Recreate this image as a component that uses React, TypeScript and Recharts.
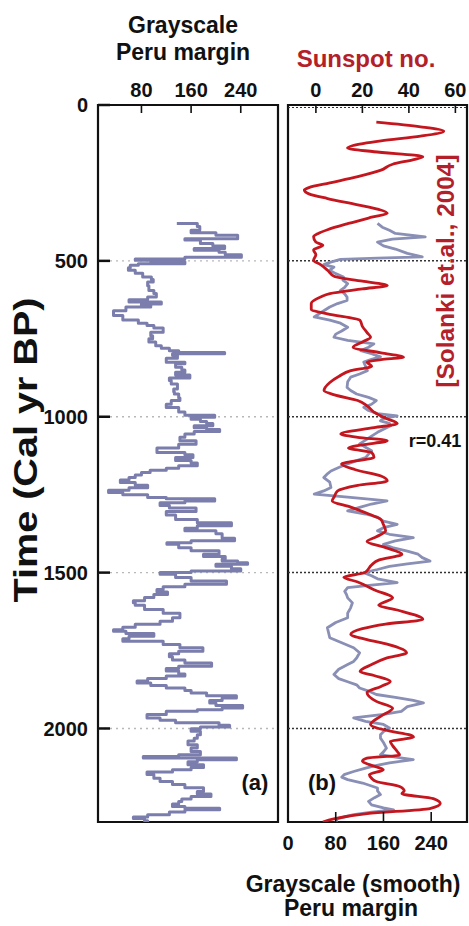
import { LineChart, Line, XAxis, YAxis, ReferenceLine, ReferenceArea } from 'recharts';

const FONT = '"Liberation Sans", Arial, Helvetica, sans-serif';
const INK = '#111';
const GRAY_LINE = '#7b7eac';
const SMOOTH_LINE = '#8a8fb5';
const RED = '#c4161e';
const RED_TEXT = '#b3202a';

// (a) grayscale, Peru margin (cal yr BP / grayscale)
const yearsA = [
  380, 390, 402, 410, 418, 429, 433, 444, 452, 460, 466, 472, 480, 488, 494, 498, 503, 509, 514, 522,
  530, 540, 552, 560, 568, 580, 595, 605, 616, 625, 632, 638, 643, 648, 660, 675, 690, 700, 707, 715,
  729, 740, 750, 760, 772, 780, 788, 794, 798, 803, 812, 825, 830, 841, 850, 857, 866, 876, 884, 895,
  911, 920, 927, 940, 948, 960, 970, 985, 995, 1002, 1008, 1015, 1022, 1029, 1035, 1041, 1047, 1055, 1066, 1077,
  1088, 1100, 1115, 1122, 1131, 1140, 1148, 1157, 1165, 1172, 1179, 1187, 1195, 1203, 1211, 1220, 1228, 1236, 1243, 1250,
  1259, 1263, 1270, 1276, 1285, 1293, 1304, 1315, 1330, 1340, 1350, 1358, 1366, 1375, 1390, 1398, 1404, 1409, 1420, 1430,
  1441, 1448, 1456, 1463, 1468, 1473, 1480, 1488, 1495, 1500, 1505, 1516, 1527, 1537, 1545, 1554, 1562, 1570, 1580, 1590,
  1597, 1605, 1618, 1630, 1645, 1656, 1666, 1675, 1683, 1688, 1695, 1704, 1712, 1720, 1731, 1741, 1752, 1760, 1770, 1780,
  1790, 1800, 1808, 1816, 1825, 1832, 1840, 1848, 1854, 1862, 1870, 1878, 1886, 1895, 1902, 1910, 1918, 1926, 1934, 1940,
  1945, 1955, 1966, 1974, 1982, 1990, 1995, 2001, 2009, 2020, 2031, 2040, 2052, 2063, 2074, 2084, 2090, 2095, 2100, 2107,
  2116, 2125, 2132, 2140, 2148, 2160, 2170, 2180, 2190, 2202, 2210, 2218, 2226, 2234, 2242, 2250, 2256, 2261, 2268, 2277,
  2284, 2289, 2296, 2300,
];
const grayA = [
  137, 170, 174, 160, 200, 235, 150, 175, 195, 214, 165, 205, 215, 241, 150, 70, 95, 150, 75, 62,
  59, 70, 82, 96, 99, 90, 92, 100, 104, 90, 60, 112, 80, 95, 55, 35, 50, 75, 89, 100,
  115, 95, 98, 92, 103, 112, 125, 140, 214, 130, 138, 120, 150, 135, 145, 150, 135, 158, 125, 128,
  138, 132, 133, 140, 142, 128, 120, 140, 150, 198, 160, 175, 185, 195, 165, 185, 206, 165, 150, 142,
  168, 140, 105, 150, 163, 135, 160, 170, 140, 120, 94, 80, 70, 60, 46, 70, 90, 60, 27, 50,
  90, 120, 198, 150, 110, 125, 168, 120, 135, 170, 225, 170, 150, 200, 210, 230, 160, 121, 140, 160,
  205, 180, 215, 210, 235, 251, 200, 225, 240, 160, 110, 135, 160, 217, 150, 115, 105, 122, 100, 85,
  67, 70, 85, 115, 142, 130, 110, 70, 50, 35, 55, 100, 60, 50, 115, 142, 179, 140, 125, 130,
  150, 193, 140, 120, 140, 150, 120, 90, 73, 95, 120, 150, 160, 185, 233, 210, 190, 200, 243, 210,
  170, 120, 89, 110, 135, 205, 222, 175, 160, 175, 170, 165, 155, 170, 160, 175, 140, 83, 233, 170,
  155, 180, 160, 130, 89, 100, 110, 130, 150, 180, 170, 192, 160, 145, 140, 130, 150, 206, 150, 125,
  90, 67, 85, 90,
];

// (b) grayscale (smooth)
const yearsSmooth = [
  380, 392, 402, 412, 423, 430, 440, 452, 462, 476, 487, 491, 495, 505, 512, 520, 530, 541, 552, 562,
  573, 585, 595, 606, 616, 627, 637, 648, 660, 680, 690, 700, 713, 725, 735, 745, 755, 766, 777, 788,
  798, 808, 816, 825, 838, 852, 863, 873, 888, 906, 916, 927, 938, 948, 960, 970, 980, 990, 997, 1005,
  1013, 1021, 1029, 1040, 1050, 1062, 1075, 1087, 1098, 1109, 1120, 1131, 1141, 1151, 1163, 1174, 1185, 1195, 1210, 1227,
  1238, 1248, 1258, 1265, 1270, 1280, 1291, 1302, 1312, 1322, 1335, 1345, 1356, 1366, 1377, 1388, 1398, 1409, 1420, 1431,
  1441, 1452, 1463, 1472, 1480, 1490, 1500, 1510, 1520, 1532, 1540, 1548, 1560, 1570, 1581, 1597, 1613, 1630, 1645, 1660,
  1677, 1693, 1709, 1725, 1741, 1757, 1774, 1785, 1795, 1810, 1827, 1840, 1850, 1860, 1870, 1880, 1891, 1900, 1910, 1918,
  1930, 1945, 1955, 1966, 1977, 1987, 1998, 2010, 2020, 2031, 2045, 2063, 2075, 2084, 2092, 2100, 2110, 2120, 2127, 2138,
  2148, 2156, 2164, 2175, 2191, 2200, 2212, 2222, 2234, 2245, 2255, 2261, 2268, 2276, 2289, 2300,
];
const graySmooth = [
  150, 158, 170, 180, 230, 175, 150, 160, 180, 200, 225, 150, 88, 70, 60, 77, 70, 80, 93, 92,
  100, 95, 88, 95, 99, 99, 83, 70, 60, 44, 70, 88, 100, 90, 80, 77, 100, 144, 135, 122,
  140, 155, 140, 127, 130, 133, 120, 105, 100, 99, 105, 115, 135, 148, 140, 127, 135, 150, 183, 160,
  155, 170, 172, 160, 150, 140, 130, 120, 130, 140, 135, 130, 115, 100, 85, 72, 65, 60, 70, 72,
  60, 44, 100, 140, 166, 140, 120, 100, 130, 150, 160, 183, 160, 150, 170, 210, 180, 160, 175, 200,
  218, 225, 238, 200, 170, 150, 127, 140, 150, 183, 140, 100, 95, 98, 100, 108, 105, 100, 100, 80,
  66, 68, 70, 90, 110, 120, 115, 110, 100, 85, 77, 85, 100, 115, 120, 135, 148, 180, 210, 227,
  200, 190, 160, 110, 130, 160, 170, 160, 155, 155, 160, 165, 160, 155, 180, 210, 170, 145, 130, 110,
  94, 90, 100, 125, 150, 150, 155, 145, 135, 140, 160, 177, 140, 110, 83, 80,
];

// (b) sunspot number [Solanki et al., 2004]
const yearsSunspot = [
  55, 70, 84, 100, 115, 130, 138, 150, 166, 175, 190, 209, 230, 250, 265, 273, 285, 300, 320, 335,
  347, 360, 380, 400, 412, 423, 440, 450, 465, 480, 498, 512, 530, 550, 565, 579, 590, 605, 616, 637,
  655, 670, 691, 710, 730, 745, 760, 777, 795, 809, 817, 825, 838, 852, 870, 890, 916, 930, 948, 965,
  985, 1005, 1022, 1035, 1055, 1066, 1077, 1090, 1100, 1115, 1130, 1152, 1170, 1190, 1206, 1220, 1238, 1255, 1270, 1290,
  1313, 1330, 1345, 1366, 1385, 1400, 1420, 1441, 1460, 1475, 1500, 1515, 1530, 1555, 1581, 1605, 1620, 1650, 1665, 1680,
  1698, 1715, 1730, 1757, 1775, 1795, 1817, 1830, 1849, 1865, 1885, 1913, 1935, 1960, 1987, 2000, 2010, 2020, 2028, 2035,
  2041, 2055, 2074, 2085, 2095, 2105, 2116, 2132, 2148, 2160, 2170, 2186, 2200, 2209, 2225, 2241, 2257, 2273, 2290, 2300,
];
const sunspot = [
  26, 45, 55, 45, 28, 16, 13.6, 25, 46, 42, 33, 28, 18, 6, -3, -5, -3, 5, 18, 27,
  30.7, 24, 14, 5, 1, -1, 0, 3, -1, 0, -1, 2, 5, 8, 20, 30.7, 20, 6, 2, -2,
  -2, 5, 19, 20, 22, 23.5, 20, 16, 28, 37.7, 28, 22, 24, 15, 10, 6, 3.5, 8, 18, 22,
  25, 30, 35, 25, 10.7, 18, 30.7, 20, 14, 24, 25, 11, 17, 28, 30.7, 18, 9.3, 8, 7, 15,
  23, 28, 29, 30, 26, 22, 30, 37, 27, 24, 21, 12, 18, 25, 33, 27, 35, 46, 30, 20,
  15, 22, 31, 39, 30, 24, 19, 25, 32, 28, 22, 26, 33, 28, 23.5, 27, 33, 40, 42, 37,
  32, 33, 35, 36, 22, 20, 23, 29, 23, 24, 26, 36, 38, 37, 50.5, 53.5, 49, 22, 7.7, 3,
];

const timeTicks = [0, 500, 1000, 1500, 2000];
const gridYears = [500, 1000, 1500, 2000];
const grayTicksTop = [80, 160, 240];
const sunspotTicks = [0, 20, 40, 60];
const grayTicksBottom = [0, 80, 160, 240];

const toRows = (ts: number[], vs: number[]) => ts.map((t, i) => ({ t, v: vs[i] }));
const rowsA = toRows(yearsA, grayA);
const rowsSmooth = toRows(yearsSmooth, graySmooth);
const rowsSunspot = toRows(yearsSunspot, sunspot);

interface TextItem {
  text: string;
  x: number;
  y: number;
  size: number;
  fill?: string;
  rotate?: boolean;
  length?: number;
}

/** fixed-position texts, handed to an axis as its label */
function TextBlock({ items }: { items: TextItem[] }) {
  return (
    <g>
      {items.map((it) => (
        <text
          key={it.text + it.x}
          x={it.rotate ? 0 : it.x}
          y={it.rotate ? 0 : it.y}
          transform={it.rotate ? `translate(${it.x},${it.y}) rotate(-90)` : undefined}
          textAnchor="middle"
          fontFamily={FONT}
          fontWeight="bold"
          fontSize={it.size}
          fill={it.fill ?? INK}
          textLength={it.length}
          lengthAdjust={it.length ? 'spacingAndGlyphs' : undefined}
        >
          {it.text}
        </text>
      ))}
    </g>
  );
}

const tickStyle = { fontSize: 20, fontWeight: 'bold', fill: INK, fontFamily: FONT };
const tickLineStyle = { stroke: INK, strokeWidth: 1.6 };

export default function App() {
  return (
    <div style={{ position: 'absolute', left: 0, top: 0, width: 469, height: 926, background: '#fff' }}>
      {/* (a) */}
      <div style={{ position: 'absolute', left: 0, top: 0 }}>
        <LineChart layout="vertical" width={469} height={926} margin={{ top: 75, right: 191, bottom: 104, left: 30 }}>
          <XAxis
            xAxisId="g"
            type="number"
            orientation="top"
            domain={[10, 300]}
            allowDataOverflow
            ticks={grayTicksTop}
            height={30}
            axisLine={false}
            tickSize={-8}
            tickMargin={16}
            tick={tickStyle}
            tickLine={tickLineStyle}
            label={
              <TextBlock
                items={[
                  { text: 'Grayscale', x: 183, y: 33, size: 23 },
                  { text: 'Peru margin', x: 183, y: 60, size: 23 },
                ]}
              />
            }
          />
          <YAxis
            yAxisId="t"
            type="number"
            dataKey="t"
            domain={[0, 2300]}
            allowDataOverflow
            ticks={timeTicks}
            width={68}
            axisLine={false}
            tickSize={-12}
            tickMargin={22}
            tick={tickStyle}
            tickLine={{ stroke: INK, strokeWidth: 2.5 }}
            label={
              <TextBlock
                items={[
                  { text: 'Time (Cal yr BP)', x: 37, y: 450, size: 34, rotate: true, length: 305 },
                  { text: '(a)', x: 255, y: 790, size: 22 },
                ]}
              />
            }
          />
          {gridYears.map((y) => (
            <ReferenceLine key={y} xAxisId="g" yAxisId="t" y={y} stroke="#b8b8b8" strokeWidth={1.3} strokeDasharray="2 4" />
          ))}
          <Line
            xAxisId="g"
            yAxisId="t"
            data={rowsA}
            dataKey="v"
            type="stepAfter"
            stroke={GRAY_LINE}
            strokeWidth={3}
            strokeLinejoin="round"
            dot={false}
            isAnimationActive={false}
          />
          <ReferenceArea xAxisId="g" yAxisId="t" x1={10} x2={300} y1={0} y2={2300} fill="none" stroke={INK} strokeWidth={2.2} />
        </LineChart>
      </div>

      {/* (b) */}
      <div style={{ position: 'absolute', left: 0, top: 0 }}>
        <LineChart layout="vertical" width={469} height={926} margin={{ top: 75, right: 2, bottom: 64, left: 287 }}>
          <XAxis
            xAxisId="s"
            type="number"
            orientation="top"
            domain={[-12, 65]}
            allowDataOverflow
            ticks={sunspotTicks}
            height={30}
            axisLine={false}
            tickSize={-8}
            tickMargin={16}
            tick={tickStyle}
            tickLine={tickLineStyle}
            label={<TextBlock items={[{ text: 'Sunspot no.', x: 366, y: 67, size: 24, fill: RED_TEXT }]} />}
          />
          <XAxis
            xAxisId="g"
            type="number"
            orientation="bottom"
            domain={[0, 300]}
            allowDataOverflow
            ticks={grayTicksBottom}
            height={40}
            axisLine={false}
            tickSize={-10}
            tickMargin={24}
            tick={tickStyle}
            tickLine={tickLineStyle}
            label={
              <TextBlock
                items={[
                  { text: 'Grayscale (smooth)', x: 353, y: 892, size: 23 },
                  { text: 'Peru margin', x: 351, y: 916, size: 23 },
                ]}
              />
            }
          />
          <YAxis
            yAxisId="t"
            type="number"
            dataKey="t"
            domain={[0, 2300]}
            allowDataOverflow
            ticks={gridYears}
            width={1}
            axisLine={false}
            tick={false}
            tickSize={-7}
            tickLine={{ stroke: INK, strokeWidth: 2.5 }}
            label={
              <TextBlock
                items={[
                  { text: '[Solanki et.al., 2004]', x: 454, y: 271, size: 23, fill: RED_TEXT, rotate: true, length: 233 },
                  { text: 'r=0.41', x: 435, y: 447, size: 18 },
                  { text: '(b)', x: 322, y: 790, size: 22 },
                ]}
              />
            }
          />
          {gridYears.map((y) => (
            <ReferenceLine key={y} xAxisId="g" yAxisId="t" y={y} stroke="#333" strokeWidth={1.5} strokeDasharray="2 2" />
          ))}
          <ReferenceLine xAxisId="g" yAxisId="t" y={8} stroke="#333" strokeWidth={1.2} strokeDasharray="2 2" />
          <Line
            xAxisId="g"
            yAxisId="t"
            data={rowsSmooth}
            dataKey="v"
            type="linear"
            stroke={SMOOTH_LINE}
            strokeWidth={2.8}
            strokeLinejoin="round"
            dot={false}
            isAnimationActive={false}
          />
          <Line
            xAxisId="s"
            yAxisId="t"
            data={rowsSunspot}
            dataKey="v"
            type="monotone"
            stroke={RED}
            strokeWidth={2.8}
            dot={false}
            isAnimationActive={false}
          />
          <ReferenceArea xAxisId="g" yAxisId="t" x1={0} x2={300} y1={0} y2={2300} fill="none" stroke={INK} strokeWidth={2.2} />
        </LineChart>
      </div>
    </div>
  );
}
